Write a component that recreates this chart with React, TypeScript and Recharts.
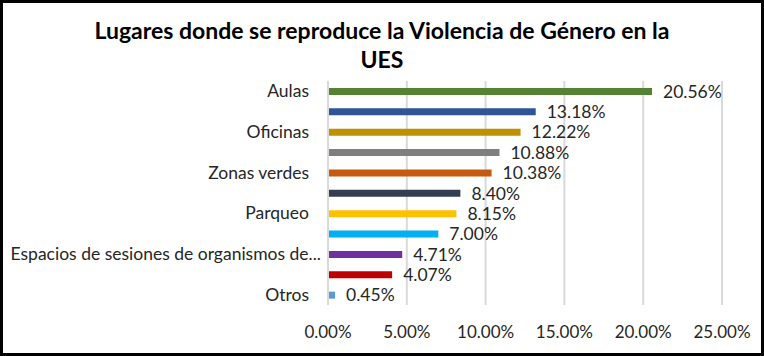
import { BarChart, Bar, XAxis, YAxis, CartesianGrid, Cell, LabelList } from "recharts";

const PLACES = [
  "Aulas",
  "Pasillos",
  "Oficinas",
  "Cafetería",
  "Zonas verdes",
  "Biblioteca",
  "Parqueo",
  "Baños",
  "Espacios de sesiones de organismos de gobierno",
  "Transporte",
  "Otros",
];
const SHARES = [20.56, 13.18, 12.22, 10.88, 10.38, 8.4, 8.15, 7.0, 4.71, 4.07, 0.45];
const COLORS = [
  "#548235",
  "#2f5597",
  "#bf9000",
  "#7f7f7f",
  "#c55a11",
  "#333f50",
  "#ffc000",
  "#00b0f0",
  "#7030a0",
  "#c00000",
  "#5b9bd5",
];
const X_TICKS = [0, 5, 10, 15, 20, 25];

const data = PLACES.map((p, i) => ({ place: p, share: SHARES[i] }));

const font = "Lato, 'Open Sans', sans-serif";
const pct = (v: number) => `${Number(v).toFixed(2)}%`;

// Excel cuts long category names with "..."
const cut = (s: string) => (s.length > 38 ? s.slice(0, 37) + "..." : s);

function PlaceTick(props: any) {
  const { x, y, payload } = props;
  const full: string = payload.value;
  const txt = cut(full);
  const dx = txt === full ? -17 : -5;
  return (
    <text x={x + dx} y={y} dy={6} textAnchor="end" fontSize={17.5} fill="#262626" fontFamily={font}>
      {txt}
    </text>
  );
}

export default function App() {
  return (
    <div
      style={{
        position: "fixed",
        left: 0,
        top: 0,
        width: 764,
        height: 356,
        background: "#fff",
        fontFamily: font,
      }}
    >
      <div
        style={{
          position: "absolute",
          left: 0,
          top: 16,
          width: 764,
          textAlign: "center",
          fontWeight: 700,
          fontSize: 23,
          lineHeight: "29px",
          color: "#000",
          zIndex: 1,
        }}
      >
        Lugares donde se reproduce la Violencia de Género en la
        <br />
        UES
      </div>
      <BarChart
        layout="vertical"
        width={764}
        height={356}
        data={data}
        margin={{ top: 81, right: 42, bottom: 11, left: 0 }}
        barSize={7}
      >
        <CartesianGrid horizontal={false} stroke="#d9d9d9" strokeWidth={2} />
        <XAxis
          type="number"
          domain={[0, 25]}
          ticks={X_TICKS}
          tickFormatter={pct}
          axisLine={false}
          tickLine={false}
          tickMargin={15}
          tick={{ fontSize: 17, fill: "#262626", fontFamily: font }}
          height={40}
        />
        <YAxis
          type="category"
          dataKey="place"
          width={328}
          interval={1}
          tickLine={false}
          tickSize={0}
          axisLine={{ stroke: "#d9d9d9", strokeWidth: 2 }}
          tick={<PlaceTick />}
        />
        <Bar dataKey="share" isAnimationActive={false}>
          {data.map((d, i) => (
            <Cell key={d.place} fill={COLORS[i]} />
          ))}
          <LabelList
            dataKey="share"
            position="right"
            offset={11}
            formatter={(v: any) => pct(v)}
            style={{ fontSize: 17.5, fill: "#262626", fontFamily: font }}
          />
        </Bar>
      </BarChart>
      <div
        style={{
          position: "absolute",
          inset: 0,
          border: "3px solid #000",
          pointerEvents: "none",
        }}
      />
    </div>
  );
}
